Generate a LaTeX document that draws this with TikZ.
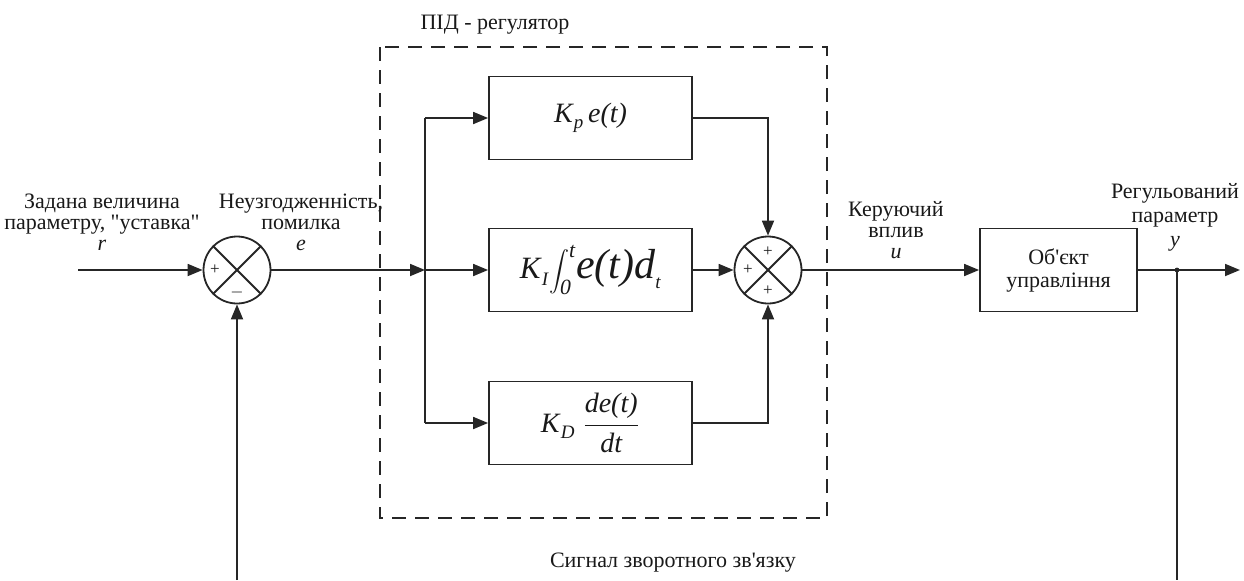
\documentclass[tikz,border=0pt]{standalone}
\usepackage{fontspec}
\setmainfont{Liberation Serif}
\usetikzlibrary{arrows.meta}

\newcommand{\lowsub}[1]{\raisebox{-0.5ex}{\fontsize{9.5}{9.5}\selectfont\textit{#1}}}

\begin{document}
\begin{tikzpicture}[x=0.5pt,y=-0.5pt,line width=0.9pt,black!85,
	every node/.style={text=black!90,font=\fontsize{11}{10.5}\selectfont},
	blk/.style={draw,rectangle,minimum width=101.5pt,minimum height=41.5pt,inner sep=0pt},
	sumnode/.style={draw,circle,minimum size=33.5pt,inner sep=0pt},
	sig/.style={-{Triangle[length=7.5pt,width=6pt]}},
	sgn/.style={font=\fontsize{8.5}{8.5}\selectfont,inner sep=0pt},
	lbl/.style={align=center,inner sep=0pt}]
	\useasboundingbox (0,0) rectangle (1244,580);

	\node[sumnode] (nS1) at (237,270) {};
	\node[sumnode] (nS2) at (768,270) {};
	\node[blk] (nP) at (590.5,118) {\fontsize{14}{14}\selectfont\textit{K}\lowsub{p}\,\textit{e(t)}};
	\node[blk] (nI) at (590.5,270) {\fontsize{15.5}{15.5}\selectfont\textit{K}\lowsub{I}$\displaystyle\int\nolimits_{\mathit{0}}^{\mathit{t}}$\fontsize{21}{21}\selectfont\textit{e(t)d}\lowsub{t}};
	\node[blk] (nD) at (590.5,423) {\fontsize{14}{14}\selectfont\textit{K}\lowsub{D}\;${\displaystyle\frac{\textit{de(t)}}{\textit{dt}}}$};
	\node[blk,lbl,minimum width=78.5pt,font=\fontsize{11}{11.5}\selectfont] (nObj) at (1058.5,270) {Об\textquotesingle єкт\\управління};

	\coordinate (cIn) at (78,270);
	\coordinate (cBr) at (425,270);
	\coordinate (cBrP) at (425,118);
	\coordinate (cBrD) at (425,423);
	\coordinate (cOut) at (1240,270);
	\coordinate (cTap) at (1177,270);
	\coordinate (cFbL) at (237,580);
	\coordinate (cFbR) at (1177,580);

	% summing junctions
	\draw (nS1.north west) -- (nS1.south east) (nS1.north east) -- (nS1.south west);
	\draw (nS2.north west) -- (nS2.south east) (nS2.north east) -- (nS2.south west);
	\node[sgn] at ([xshift=-11pt]nS1.center) {+};
	\node[sgn] at ([yshift=-11pt]nS1.center) {$-$};
	\node[sgn] at ([yshift=9pt]nS2.center) {+};
	\node[sgn] at ([xshift=-10pt]nS2.center) {+};
	\node[sgn] at ([yshift=-10.5pt]nS2.center) {+};

	% PID box
	\draw[dash pattern=on 7pt off 4.5pt] (380,47) rectangle (827,518);

	\path[sig]
		(cIn) edge (nS1)
		(nS1) edge (cBr)
		(cBrP) edge (nP)
		(cBr) edge (nI)
		(cBrD) edge (nD)
		(nI) edge (nS2)
		(nS2) edge (nObj)
		(nObj) edge (cOut)
		(cFbL) edge (nS1);
	\draw (cBrP) -- (cBrD);
	\draw[sig] (nP.east) -| (nS2);
	\draw[sig] (nD.east) -| (nS2);
	\draw (cTap) -- (cFbR);
	\fill (cTap) circle (1.2pt);

	% labels
	\node[lbl] (tPID) at (495,25) {ПІД - регулятор};
	\node[lbl] (tR) at (102,222) {Задана величина\\параметру, \textquotedbl уставка\textquotedbl\\\textit{r}};
	\node[lbl] (tE) at (301,222) {Неузгодженність,\\помилка\\\textit{e}};
	\node[lbl] (tU) at (896,230) {Керуючий\\вплив\\\textit{u}};
	\node[lbl,font=\fontsize{11}{12}\selectfont] (tY) at (1175,217) {Регульований\\параметр\\\textit{y}};
	\node[lbl] (tFb) at (673,563) {Сигнал зворотного зв\textquotesingle язку};
\end{tikzpicture}
\end{document}
